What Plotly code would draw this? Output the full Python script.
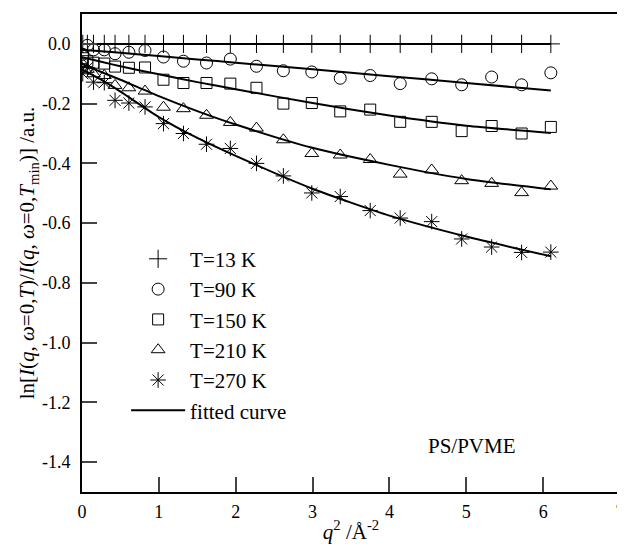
import plotly.graph_objects as go

# q^2 positions (Å^-2)
q2 = [0.01, 0.07, 0.15, 0.29, 0.43, 0.61, 0.82, 1.06, 1.32, 1.62, 1.93, 2.27,
      2.62, 2.99, 3.36, 3.75, 4.14, 4.55, 4.94, 5.33, 5.72, 6.10]

y_13 = [0.0] * len(q2)
y_90 = [-0.035, -0.005, -0.02, -0.02, -0.033, -0.028, -0.022, -0.044, -0.058, -0.064,
        -0.051, -0.075, -0.090, -0.094, -0.115, -0.106, -0.133, -0.117, -0.137,
        -0.111, -0.137, -0.097]
y_150 = [-0.048, -0.058, -0.063, -0.066, -0.076, -0.080, -0.079, -0.120, -0.131, -0.131,
         -0.133, -0.147, -0.200, -0.198, -0.226, -0.220, -0.261, -0.261, -0.292,
         -0.275, -0.300, -0.278]
y_210 = [-0.068, -0.085, -0.100, -0.106, -0.139, -0.147, -0.158, -0.212, -0.217, -0.239,
         -0.263, -0.282, -0.321, -0.367, -0.372, -0.387, -0.436, -0.422, -0.458,
         -0.467, -0.498, -0.476]
y_270 = [-0.100, -0.080, -0.128, -0.130, -0.189, -0.198, -0.211, -0.267, -0.300, -0.336,
         -0.350, -0.400, -0.442, -0.499, -0.511, -0.558, -0.583, -0.595, -0.653,
         -0.680, -0.698, -0.697]

# fitted curves
fit_x = [0.0, 0.25, 0.5, 1.0, 1.5, 2.0, 3.0, 4.0, 5.0, 6.1]
fit_13 = [0.0] * len(fit_x)
fit_90 = [-0.020, -0.025, -0.030, -0.041, -0.052, -0.063, -0.085, -0.108, -0.131, -0.156]
fit_150 = [-0.045, -0.060, -0.075, -0.102, -0.128, -0.152, -0.198, -0.240, -0.274, -0.298]
fit_210 = [-0.067, -0.094, -0.120, -0.175, -0.225, -0.270, -0.348, -0.405, -0.452, -0.487]
fit_270 = [-0.085, -0.120, -0.160, -0.245, -0.315, -0.375, -0.485, -0.575, -0.645, -0.711]

labels = ["T=13 K", "T=90 K", "T=150 K", "T=210 K", "T=270 K"]
symbols = ["cross-thin-open", "circle-open", "square-open", "triangle-up-open", "asterisk-open"]
sizes = [13, 12, 11, 12, 13]

x_ticks = [0, 1, 2, 3, 4, 5, 6, 7]
y_ticks = [0.0, -0.2, -0.4, -0.6, -0.8, -1.0, -1.2, -1.4]
y_ticktext = ["0.0", "-0.2", "-0.4", "-0.6", "-0.8", "-1.0", "-1.2", "-1.4"]

FONT = "Liberation Serif, Times New Roman, serif"

fig = go.Figure()
series = [y_13, y_90, y_150, y_210, y_270]
fits = [fit_13, fit_90, fit_150, fit_210, fit_270]

for i, f in enumerate(fits):
    fig.add_trace(go.Scatter(
        x=fit_x, y=f, mode="lines", line=dict(color="black", width=2, shape="spline", smoothing=0.6),
        name="fitted curve", showlegend=False, legendrank=1000 + i,
    ))

for i, (s, lab) in enumerate(zip(series, labels)):
    fig.add_trace(go.Scatter(
        x=q2, y=s, mode="markers", name=lab,
        marker=dict(symbol=symbols[i], size=sizes[i], color="black",
                    line=dict(color="black", width=1)),
        legendrank=i + 1,
    ))

# legend entry for fitted curve
fig.add_trace(go.Scatter(
    x=[None], y=[None], mode="lines", line=dict(color="black", width=2),
    name="fitted curve", legendrank=100,
))

fig.add_annotation(x=5.07, y=-1.346, text="PS/PVME", showarrow=False,
                   xref="x", yref="y", font=dict(family=FONT, size=21, color="black"))

# page body has an 8px default margin, so the figure is sized to fit the window
fig.update_layout(
    width=617, height=540,
    margin=dict(l=74, r=5, t=6, b=56, autoexpand=False),
    paper_bgcolor="white", plot_bgcolor="white",
    font=dict(family=FONT, size=18, color="black"),
    showlegend=True,
    legend=dict(x=0.082, y=0.53, xanchor="left", yanchor="top",
                bgcolor="rgba(0,0,0,0)", font=dict(family=FONT, size=21),
                itemwidth=54, tracegroupgap=0),
    xaxis=dict(range=[0, 7], tickvals=x_ticks, ticks="inside", ticklen=15, tickwidth=2,
               showline=True, linewidth=2, linecolor="black", mirror=True,
               showgrid=False, zeroline=False, ticklabelstandoff=2, automargin=False,
               tickfont=dict(family=FONT, size=18),
               title=dict(text="<i>q</i><sup>2</sup> /Å<sup>-2</sup>", standoff=4,
                          font=dict(family=FONT, size=21))),
    yaxis=dict(range=[-1.5, 0.1], tickvals=y_ticks, ticktext=y_ticktext, ticks="inside",
               ticklen=15, tickwidth=2, showline=True, linewidth=2, linecolor="black",
               mirror=True, showgrid=False, zeroline=False, ticklabelstandoff=6,
               automargin=False, tickfont=dict(family=FONT, size=18),
               title=dict(text="ln[<i>I</i>(<i>q</i>, <i>ω</i>=0,<i>T</i>)/<i>I</i>(<i>q</i>, <i>ω</i>=0,<i>T</i><sub>min</sub>)] /a.u.",
                          standoff=0, font=dict(family=FONT, size=21))),
)

fig.write_html("out.html")
